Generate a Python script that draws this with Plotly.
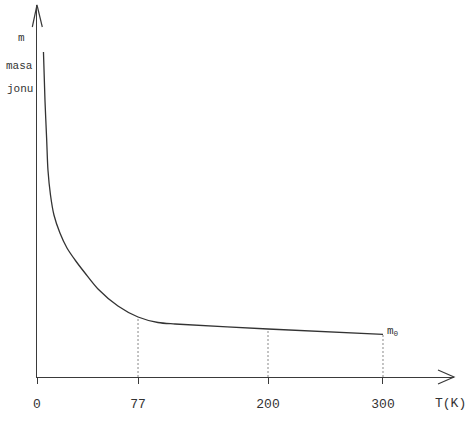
import numpy as np
import plotly.graph_objects as go

# Curve m(T) (schematic T scale, m in arbitrary units)
curve_T = [5.6, 6.9, 8.4, 9.5, 11.7, 14.7, 19.9, 26.0, 33.0, 41.6, 52.9, 70.2, 87.6, 104.9, 119.7, 200.3, 300.0]
curve_m = [325, 277, 237, 207, 182, 162, 144, 129, 117, 104, 88, 71, 60, 54.5, 53, 48, 42.7]

# Tick positions along the schematic T axis and their labels
tick_pos = [0, 87.6, 200.3, 300]
tick_text = ["0", "77", "200", "300"]
guide_T = [87.6, 200.3, 300]

W, H = 468, 440
ML, MR, MT, MB = 37, 14, 5, 63
x_range = [0, (W - ML - MR) / 1.1533]
y_range = [0, H - MT - MB]

axis_col = "#3a3a3a"
font_fam = "Liberation Mono, DejaVu Sans Mono, monospace"

fig = go.Figure()
fig.add_trace(go.Scatter(x=curve_T, y=curve_m, mode="lines",
                         line=dict(color="#333333", width=1.3, shape="spline", smoothing=0.8),
                         hoverinfo="skip", showlegend=False))
guide_m = np.interp(guide_T, curve_T, curve_m)
for t, m in zip(guide_T, guide_m):
    fig.add_trace(go.Scatter(x=[t, t], y=[0, m], mode="lines",
                             line=dict(color="#888888", width=1, dash="2px,2px"),
                             hoverinfo="skip", showlegend=False))

pw = W - ML - MR
ph = H - MT - MB
def px(x):
    return (x - ML) / pw
def py(y):
    return (H - MB - y) / ph

shapes = [
    dict(type="path", xref="paper", yref="paper",
         path=f"M {px(32.3)} {py(27)} L {px(37)} {py(5)} L {px(42.3)} {py(27)}",
         line=dict(color=axis_col, width=1.2)),
    dict(type="path", xref="paper", yref="paper",
         path=f"M {px(438)} {py(370)} L {px(454)} {py(377)} L {px(438)} {py(384)}",
         line=dict(color=axis_col, width=1.2)),
]

def lab(text, x, y, size=11, anchor="center"):
    return dict(text=text, x=px(x), y=py(y), xref="paper", yref="paper", showarrow=False,
                xanchor=anchor, yanchor="middle",
                font=dict(size=size, color="#333", family=font_fam))

annotations = [
    lab("m", 21.7, 38),
    lab("masa", 19, 66),
    lab("jonu", 20, 89),
    lab("T(K)", 450, 403, size=13),
    lab("m<sub>0</sub>", 385, 331, anchor="left"),
]

fig.update_layout(
    width=W, height=H,
    margin=dict(l=ML, r=MR, t=MT, b=MB),
    paper_bgcolor="white", plot_bgcolor="white",
    xaxis=dict(range=x_range, showgrid=False, zeroline=False, showline=True,
               linecolor=axis_col, linewidth=1.2, ticks="outside", ticklen=6,
               tickcolor=axis_col, tickwidth=1, tickvals=tick_pos, ticktext=tick_text,
               tickfont=dict(size=13, color="#333", family=font_fam),
               ticklabelstandoff=8, fixedrange=True),
    yaxis=dict(range=y_range, showgrid=False, zeroline=False, showline=True,
               linecolor=axis_col, linewidth=1.2, showticklabels=False, ticks="",
               fixedrange=True),
    shapes=shapes, annotations=annotations, showlegend=False,
)

fig.write_html("out.html", config={"displayModeBar": False},
               post_script="document.body.style.margin='0';")
